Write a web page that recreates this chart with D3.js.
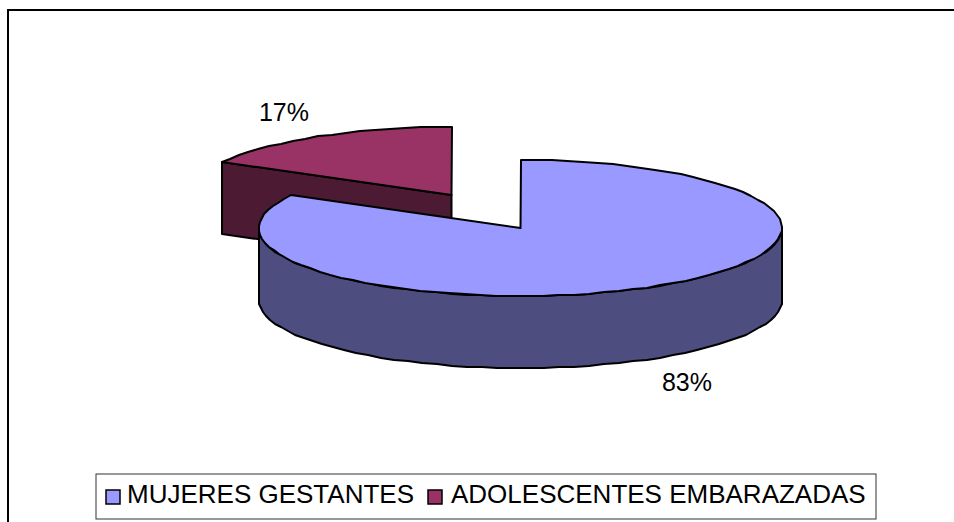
<!DOCTYPE html>
<html>
<head>
<meta charset="utf-8">
<script src="https://cdn.jsdelivr.net/npm/d3@7"></script>
<style>
html, body { margin: 0; padding: 0; background: #fff; }
svg { display: block; }
text { font-family: "Liberation Sans", Arial, sans-serif; fill: #000; }
</style>
</head>
<body>
<div id="chart"></div>
<script>
const categories = ['MUJERES GESTANTES', 'ADOLESCENTES EMBARAZADAS'];
const values = [83, 17];
const percentLabels = ['83%', '17%'];
const topColors = ['#9999ff', '#993366'];
const sideColors = ['#4d4d80', '#4d1a33'];

const width = 954;
const height = 522;
const depth = 72;

const svg = d3.select('#chart')
    .append('svg')
    .attr('width', width)
    .attr('height', height);

// Chart frame, only top and left edges are in the picture
svg.append('path')
    .attr('d', d3.line()([[8, height], [8, 10], [width, 10]]))
    .attr('fill', 'none')
    .attr('stroke', '#000')
    .attr('stroke-width', 2);

// Pie is an ellipse, so unit circle coordinates go through two scales
const xScale = d3.scaleLinear().domain([-1, 1]).range([-261.5, 261.5]);
const yScale = d3.scaleLinear().domain([-1, 1]).range([-68, 68]);

const arcs = d3.pie().sort(null)(values);

// Jagged outline like the original: coarse sampling snapped to whole pixels
function rimPoints(a0, a1, cx, cy) {
    const n = Math.ceil((a1 - a0) / 0.06);
    return d3.range(n + 1).map(i => {
        const a = a0 + (a1 - a0) * i / n;
        return [Math.round(cx + xScale(Math.sin(a))), Math.round(cy + yScale(-Math.cos(a)))];
    });
}

const line = d3.line();
const slices = [
    {arc: arcs[0], cx: 520.5, cy: 228},
    {arc: arcs[1], cx: 451.5, cy: 195}
];

function drawShape(points, fill) {
    svg.append('path')
        .attr('d', line(points) + 'Z')
        .attr('fill', fill)
        .attr('stroke', '#000')
        .attr('stroke-width', 2)
        .attr('stroke-linejoin', 'round');
}

// Back slice first, the big one overlaps it
[1, 0].forEach(i => {
    const s = slices[i];
    const a0 = s.arc.startAngle;
    const a1 = s.arc.endAngle;
    const rim = rimPoints(a0, a1, s.cx, s.cy);

    if (i === 1) {
        // Cut face along the straight edge to the left rim point
        const p = rim[0];
        drawShape([[s.cx, s.cy], p, [p[0], p[1] + depth], [s.cx, s.cy + depth]], sideColors[i]);
    } else {
        // Outer wall, front half of the ellipse only
        const front = rimPoints(Math.PI / 2, 3 * Math.PI / 2, s.cx, s.cy);
        const lower = front.map(p => [p[0], p[1] + depth]).reverse();
        drawShape(front.concat(lower), sideColors[i]);
    }
    drawShape([[s.cx, s.cy]].concat(rim), topColors[i]);
});

// Percent labels
svg.append('text').attr('x', 687).attr('y', 391).attr('text-anchor', 'middle')
    .attr('font-size', 25).text(percentLabels[0]);
svg.append('text').attr('x', 284).attr('y', 121).attr('text-anchor', 'middle')
    .attr('font-size', 25).text(percentLabels[1]);

// Legend
const legend = svg.append('g');
legend.append('rect')
    .attr('x', 96).attr('y', 474)
    .attr('width', 780).attr('height', 45)
    .attr('fill', '#fff')
    .attr('stroke', '#333')
    .attr('stroke-width', 1);

const legendX = d3.scaleOrdinal().domain(categories).range([106, 428]);
const legendTextX = d3.scaleOrdinal().domain(categories).range([127, 451]);
categories.forEach((c, i) => {
    legend.append('rect')
        .attr('x', legendX(c)).attr('y', 490)
        .attr('width', 14).attr('height', 14)
        .attr('fill', topColors[i])
        .attr('stroke', '#000')
        .attr('stroke-width', 1.5);
    legend.append('text')
        .attr('x', legendTextX(c)).attr('y', 503)
        .attr('font-size', 26)
        .text(c);
});
</script>
</body>
</html>
